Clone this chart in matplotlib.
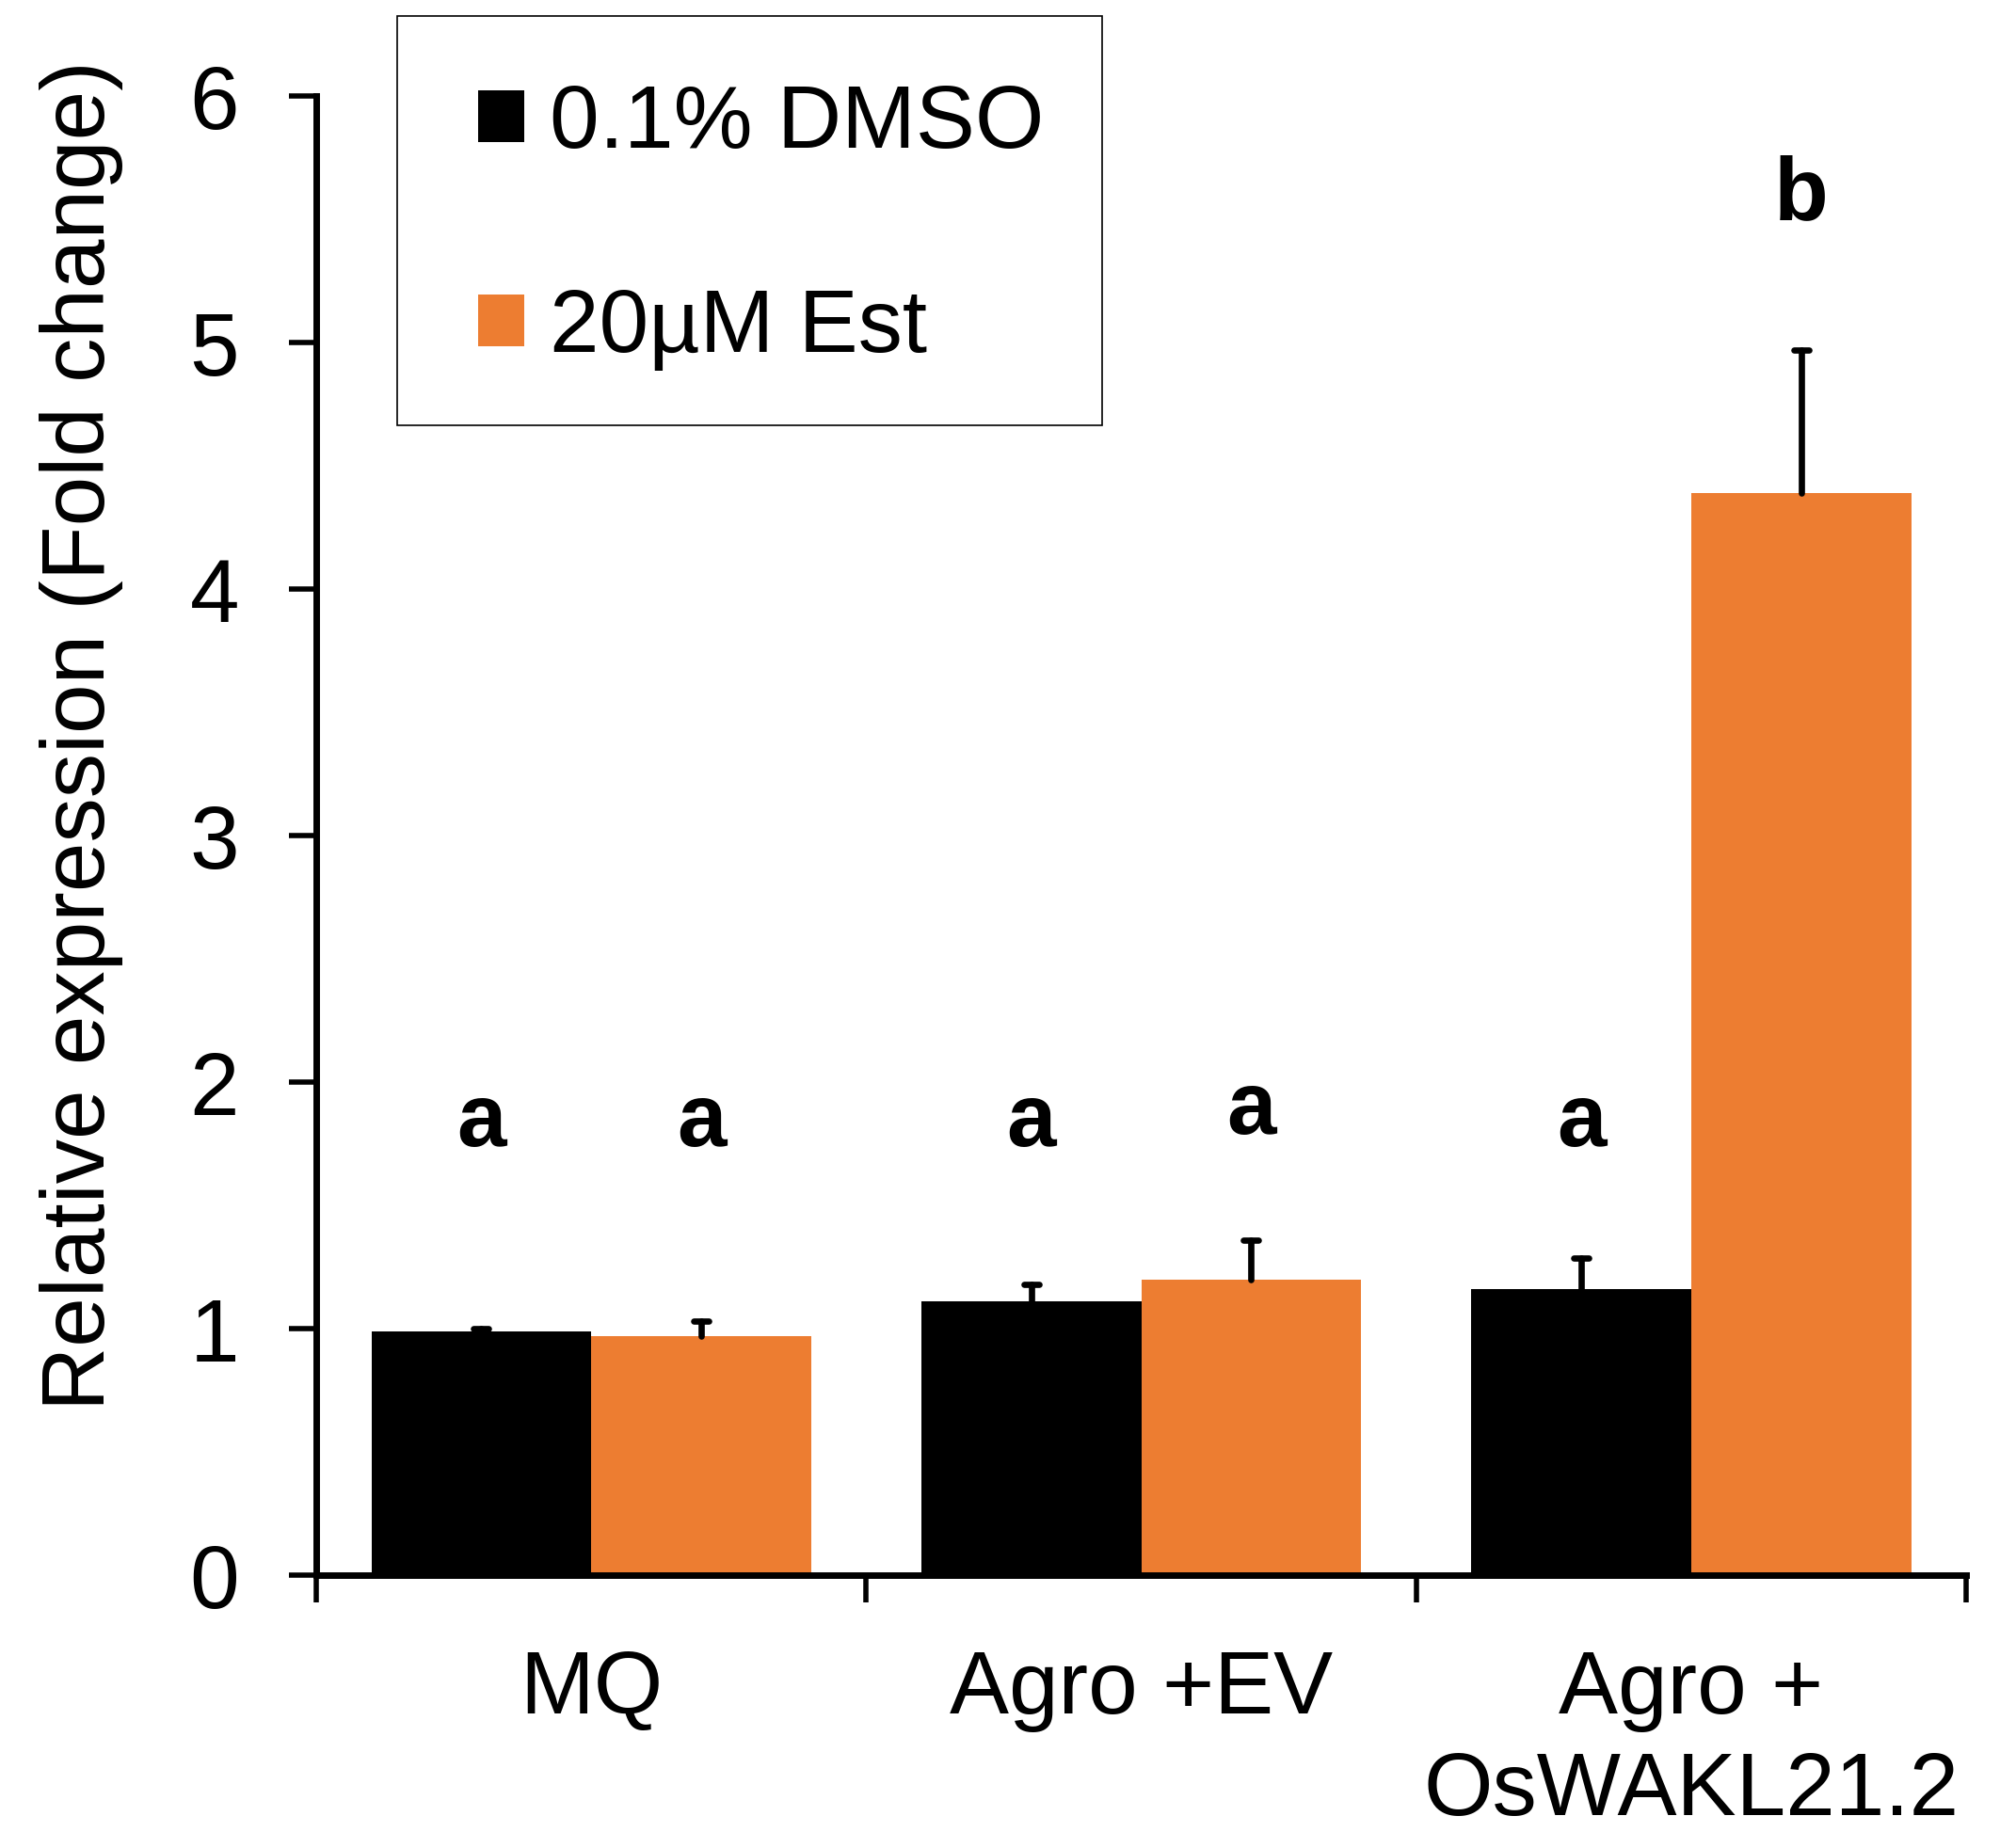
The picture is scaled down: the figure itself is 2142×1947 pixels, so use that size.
import numpy as np
import matplotlib
matplotlib.use('Agg')
import matplotlib.pyplot as plt
from matplotlib.patches import Patch, Rectangle
from matplotlib.markers import MarkerStyle

# expression data (fold change, mean and upper SE)
categories = ['MQ', 'Agro +EV', 'Agro +\nOsWAKL21.2']
dmso = [0.99, 1.11, 1.16]
dmso_err = [0.01, 0.07, 0.125]
est = [0.97, 1.20, 4.39]
est_err = [0.06, 0.16, 0.58]
dmso_letters = ['a', 'a', 'a']
est_letters = ['a', 'a', 'b']
series_names = ['0.1% DMSO', '20µM Est']

# where the significance letters sit (baseline, in data units)
dmso_letter_y = [1.74, 1.74, 1.74]
est_letter_y = [1.74, 1.79, 5.50]

black = '#000000'
orange = '#ED7D31'
fs = 68

plt.rcParams['font.family'] = ['Liberation Sans', 'DejaVu Sans']

W, H = 2142, 1947
fig = plt.figure(figsize=(W / 100, H / 100), dpi=100)
ax = fig.add_axes([0.1569, 0.1402, 0.8184, 0.8074])

x = np.arange(len(categories))
w = 0.4
ax.bar(x - w / 2, dmso, w, color=black, zorder=2)
ax.bar(x + w / 2, est, w, color=orange, zorder=2)

# upper error bars only, with round ends
for xs, vals, errs in [(x - w / 2, dmso, dmso_err), (x + w / 2, est, est_err)]:
    eb = ax.errorbar(xs, vals, yerr=[np.zeros(len(vals)), errs], fmt='none',
                     ecolor='black', elinewidth=4.8, capsize=5.5, capthick=4.8, zorder=3)
    for cap in eb[1]:
        cap.set_marker(MarkerStyle('_', capstyle='round'))
        if np.allclose(cap.get_ydata(), vals):
            cap.set_visible(False)
    for col in eb[2]:
        col.set_capstyle('round')

for xi, lab, yy in zip(x - w / 2, dmso_letters, dmso_letter_y):
    ax.text(xi, yy, lab, ha='center', va='baseline', fontsize=fs, fontweight='bold')
for xi, lab, yy in zip(x + w / 2, est_letters, est_letter_y):
    ax.text(xi, yy, lab, ha='center', va='baseline', fontsize=fs, fontweight='bold')

ax.set_xlim(-0.5, 2.5)
ax.set_ylim(0, 6)
ax.set_yticks(range(7))
ax.tick_params(axis='y', direction='out', length=21, width=4, pad=38, labelsize=fs)

# group borders get the tick marks, group centres get the labels
ax.set_xticks([-0.5, 0.5, 1.5, 2.5])
ax.set_xticklabels([])
ax.tick_params(axis='x', which='major', direction='out', length=21, width=4)
ax.set_xticks(x, minor=True)
ax.set_xticklabels(categories, minor=True, fontsize=fs, linespacing=1.28)
ax.tick_params(axis='x', which='minor', length=0, pad=56)

for s in ['top', 'right']:
    ax.spines[s].set_visible(False)
for s in ['left', 'bottom']:
    ax.spines[s].set_linewidth(5)

ax.set_ylabel('Relative expression (Fold change)', fontsize=fs)
ax.yaxis.set_label_coords(-0.117, 0.568)

# legend entries without frame, box drawn separately
handles = [Patch(facecolor=black), Patch(facecolor=orange)]
leg = ax.legend(handles, series_names, loc='center left',
                bbox_to_anchor=(508 / W, 1 - 241 / H), bbox_transform=fig.transFigure,
                fontsize=fs, frameon=False, borderaxespad=0, borderpad=0,
                handlelength=0.52, handleheight=0.52,
                handletextpad=0.29, labelspacing=1.35)
fig.add_artist(Rectangle((422 / W, 1 - 452 / H), 749 / W, 435 / H,
                         transform=fig.transFigure, fill=False,
                         edgecolor='black', linewidth=1.2))

fig.savefig('out.png', dpi=100)
